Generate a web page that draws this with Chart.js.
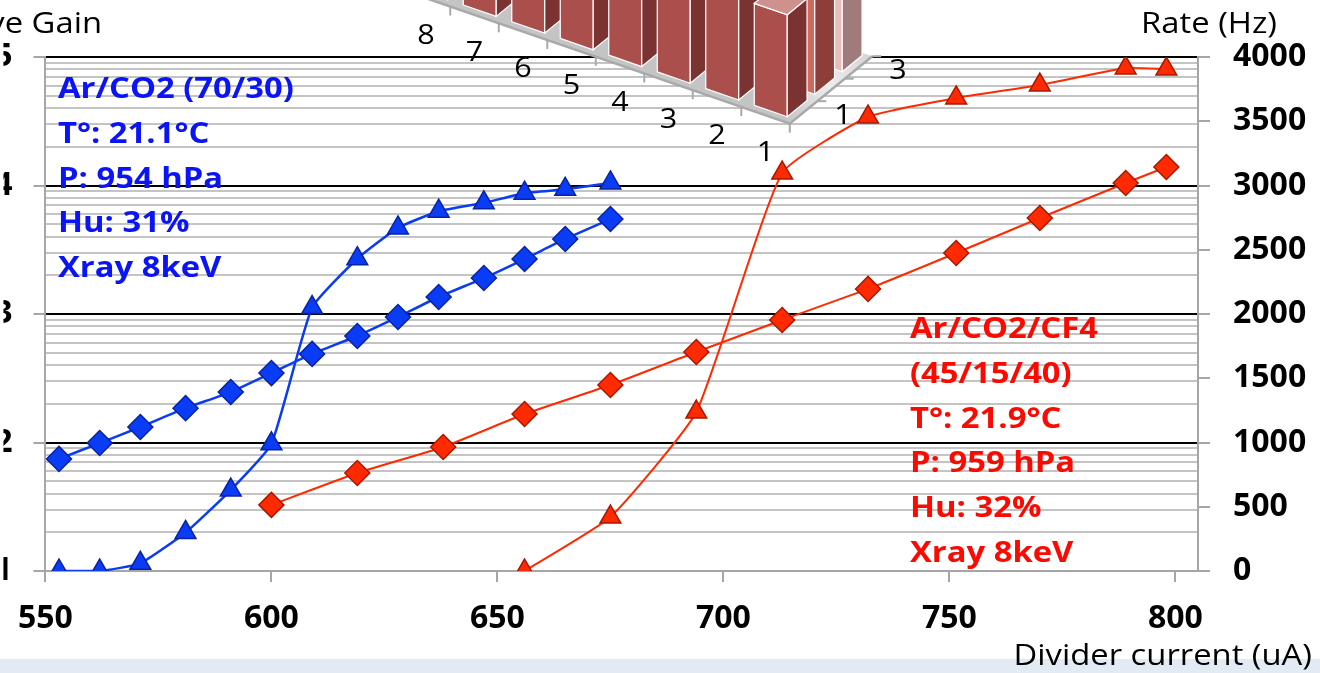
<!DOCTYPE html>
<html>
<head>
<meta charset="utf-8">
<script src="https://cdn.jsdelivr.net/npm/chart.js@4.4.1/dist/chart.umd.min.js"></script>
<style>
  html, body { margin: 0; padding: 0; background: #fff; }
  body { width: 1320px; height: 673px; position: relative; overflow: hidden; }
  #band { position: absolute; left: 0; top: 659px; width: 1320px; height: 14px; background: #e2eaf4; }
  #main { position: absolute; left: 0; top: 0; }
  #inset { position: absolute; left: 380px; top: 0; }
</style>
</head>
<body>
<div id="band"></div>
<canvas id="main" width="1320" height="673"></canvas>
<canvas id="inset" width="540" height="170"></canvas>
<script>
const FONT = "'Open Sans', sans-serif";
const WIDEN = 1.13; // text on the slide is drawn slightly stretched

// Ar/CO2 (70/30)
const arCurrent = [553, 562, 571, 581, 591, 600, 609, 619, 628, 637, 647, 656, 665, 675];
const arGain = [74.5, 99, 132, 185, 247, 347, 489, 674, 948, 1356, 1905, 2679, 3836, 5483];
const arRate = [0, 0, 60, 300, 630, 990, 2050, 2430, 2670, 2800, 2865, 2940, 2970, 3020];

// Ar/CO2/CF4 (45/15/40)
const cfCurrent = [600, 619, 638, 656, 675, 694, 713, 732, 751.5, 770, 789, 798];
const cfGain = [32.7, 57.9, 92.3, 166.6, 280, 506, 898, 1567, 2985, 5587, 10450, 13930];
const cfRateCurrent = [656, 675, 694, 713, 732, 751.5, 770, 789, 798];
const cfRate = [0, 420, 1237, 3097, 3533, 3681, 3782, 3914, 3906];

const xTicks = [550, 600, 650, 700, 750, 800];

const arNote = ['Ar/CO2 (70/30)', 'T°: 21.1°C', 'P: 954 hPa', 'Hu: 31%', 'Xray 8keV'];
const cfNote = ['Ar/CO2/CF4', '(45/15/40)', 'T°: 21.9°C', 'P: 959 hPa', 'Hu: 32%', 'Xray 8keV'];

// small 3D bar chart in the top corner
const insetCats = ['1', '2', '3', '4', '5', '6', '7', '8'];
const insetRows = ['1', '2', '3'];
const insetRow1 = [60, 61, 63, 64, 66, 67, 69, 70];
const insetRow2 = [66, 67, 69, 70, 72, 73, 75, 76];
const insetRow3 = [70, 71, 73, 74, 76, 77, 79, 80];

const blue = '#0a3cf5', blueEdge = '#0a239e', blueText = '#0b14f5';
const red = '#ff2a00', redEdge = '#a51a00', redText = '#fa0a00';

function pts(xs, ys) {
  return xs.map((x, i) => ({ x: x, y: ys[i] }));
}

function isDecade(v) {
  const l = Math.log10(v);
  return Math.abs(l - Math.round(l)) < 1e-9;
}

// fillText with a horizontal stretch; align is 'left', 'center' or 'right'
function wideText(ctx, t, x, y, align) {
  ctx.save();
  ctx.translate(x, y);
  ctx.scale(WIDEN, 1);
  ctx.textAlign = align || 'left';
  ctx.fillText(t, 0, 0);
  ctx.restore();
}

const notes = {
  id: 'notes',
  afterDraw(chart) {
    const ctx = chart.ctx;
    ctx.save();
    ctx.textBaseline = 'alphabetic';
    ctx.font = 'bold 29px ' + FONT;
    ctx.fillStyle = blueText;
    arNote.forEach((t, i) => wideText(ctx, t, 58, 98 + i * 44.8));
    ctx.fillStyle = redText;
    cfNote.forEach((t, i) => wideText(ctx, t, 910, 338 + i * 44.8));

    ctx.fillStyle = '#000';
    ctx.font = '29px ' + FONT;
    wideText(ctx, 'Effective Gain', 102, 33, 'right');
    wideText(ctx, 'Rate (Hz)', 1277, 33, 'right');
    wideText(ctx, 'Divider current (uA)', 1312, 665, 'right');
    ctx.restore();
  }
};

const tickFont = { family: FONT, size: 32, weight: 'bold' };

new Chart(document.getElementById('main'), {
  type: 'line',
  data: {
    datasets: [
      {
        label: 'Ar/CO2 gain', data: pts(arCurrent, arGain), yAxisID: 'gain',
        borderColor: blue, borderWidth: 2.5, pointStyle: 'rectRot', pointRadius: 12.5,
        pointBackgroundColor: blue, pointBorderColor: blueEdge, pointBorderWidth: 1.5, tension: 0.15
      },
      {
        label: 'Ar/CO2 rate', data: pts(arCurrent, arRate), yAxisID: 'rate',
        borderColor: blue, borderWidth: 2.5, pointStyle: 'triangle', pointRadius: 12,
        pointBackgroundColor: blue, pointBorderColor: blueEdge, pointBorderWidth: 1.5, tension: 0.15
      },
      {
        label: 'Ar/CO2/CF4 gain', data: pts(cfCurrent, cfGain), yAxisID: 'gain',
        borderColor: red, borderWidth: 2, pointStyle: 'rectRot', pointRadius: 12.5,
        pointBackgroundColor: red, pointBorderColor: redEdge, pointBorderWidth: 1.5, tension: 0.15
      },
      {
        label: 'Ar/CO2/CF4 rate', data: pts(cfRateCurrent, cfRate), yAxisID: 'rate',
        borderColor: red, borderWidth: 2, pointStyle: 'triangle', pointRadius: 12,
        pointBackgroundColor: red, pointBorderColor: redEdge, pointBorderWidth: 1.5, tension: 0.15
      }
    ]
  },
  options: {
    responsive: false,
    animation: false,
    devicePixelRatio: 1,
    events: [],
    layout: { padding: { top: 57, left: 0, right: 0, bottom: 0 } },
    plugins: { legend: { display: false }, tooltip: { enabled: false } },
    scales: {
      x: {
        type: 'linear', min: 550, max: 805,
        afterBuildTicks: s => { s.ticks = xTicks.map(v => ({ value: v })); },
        afterFit: s => { s.height = 102; },
        border: { color: '#a6a6a6', width: 2 },
        grid: { drawOnChartArea: false, color: '#a6a6a6', lineWidth: 2, tickLength: 11 },
        ticks: { color: '#000', font: tickFont, padding: 18, maxRotation: 0, autoSkip: false, callback: v => String(v) }
      },
      gain: {
        type: 'logarithmic', position: 'left', min: 10, max: 100000,
        afterBuildTicks: s => {
          const t = [];
          for (let e = 1; e <= 5; e++) {
            for (let m = 1; m <= 9; m++) {
              const v = m * Math.pow(10, e);
              if (v <= 100000) t.push({ value: v });
            }
          }
          s.ticks = t;
        },
        afterFit: s => { s.width = 42; },
        border: { color: '#a6a6a6', width: 2 },
        grid: {
          color: c => isDecade(c.tick.value) ? '#000' : '#c4c4c4',
          tickColor: c => isDecade(c.tick.value) ? '#a6a6a6' : 'rgba(0,0,0,0)',
          lineWidth: 2, tickLength: 12
        },
        ticks: {
          autoSkip: false, color: '#000', padding: 21, font: tickFont,
          callback: v => isDecade(v) ? '1.E+0' + Math.round(Math.log10(v)) : ''
        }
      },
      rate: {
        type: 'linear', position: 'right', min: 0, max: 4000,
        afterFit: s => { s.width = 122; },
        border: { color: '#a6a6a6', width: 2 },
        grid: { drawOnChartArea: false, color: '#a6a6a6', lineWidth: 2, tickLength: 12 },
        ticks: { stepSize: 500, color: '#000', padding: 23, font: tickFont, callback: v => String(v) }
      }
    }
  },
  plugins: [notes]
});

// ---- 3D inset ----
const SLOPE = 0.345;             // slope of the category axis on screen
const ROWX = 27.5, ROWY = -22.5; // one depth row on screen
const FX = 408, FY = 117;        // a point of the front row base line
const BAR_DEPTH = 0.72;          // in rows
const rowColors = [
  { front: '#ab4f4d', side: '#7a3331', top: '#cf918e' },
  { front: '#d0685e', side: '#8e3e38', top: '#e4a39d' },
  { front: '#e8bdb9', side: '#9f7b7b', top: '#f3dcda' }
];

function P(x, r) {
  return [x + r * ROWX, FY + SLOPE * (x - FX) + r * ROWY];
}

function poly(ctx, points, fill, stroke) {
  ctx.beginPath();
  ctx.moveTo(points[0][0], points[0][1]);
  for (let i = 1; i < points.length; i++) ctx.lineTo(points[i][0], points[i][1]);
  ctx.closePath();
  if (fill) { ctx.fillStyle = fill; ctx.fill(); }
  if (stroke) { ctx.strokeStyle = stroke; ctx.lineWidth = 1.2; ctx.stroke(); }
}

const box3d = {
  id: 'box3d',
  afterDatasetsDraw(chart) {
    const ctx = chart.ctx;
    const area = chart.chartArea;
    const L = area.left, R = area.right;
    const f0 = -0.19, f1 = 2.81;
    ctx.save();

    // back walls are plain white
    const br = P(R, f1);
    poly(ctx, [P(L - 200, f0), P(R, f0), br, [br[0], -60], [P(L - 200, f0)[0], -60]], '#fff');

    // floor
    const g = ctx.createLinearGradient(P(R, f0)[0], P(R, f0)[1], br[0], br[1]);
    g.addColorStop(0, '#c4c4c4');
    g.addColorStop(0.5, '#ececec');
    g.addColorStop(1, '#d6d6d6');
    poly(ctx, [P(L - 200, f0), P(R, f0), P(R, f1), P(L - 200, f1)], g);
    ctx.strokeStyle = '#a9a9a9';
    ctx.lineWidth = 2.5;
    ctx.beginPath();
    ctx.moveTo(...P(L - 200, f0));
    ctx.lineTo(...P(R, f0));
    ctx.lineTo(...P(R, f1));
    ctx.stroke();

    // tick marks on the floor edges
    ctx.lineWidth = 2;
    const xs = chart.scales.x;
    const step = (R - L) / insetCats.length;
    for (let k = 0; k <= insetCats.length; k++) {
      const p = P(L + k * step, f0);
      ctx.beginPath();
      ctx.moveTo(p[0], p[1]);
      ctx.lineTo(p[0], p[1] + 9);
      ctx.stroke();
    }
    for (let k = 1; k <= 3; k++) {
      const p = P(R, f0 + k);
      ctx.beginPath();
      ctx.moveTo(p[0], p[1]);
      ctx.lineTo(p[0] + 9, p[1]);
      ctx.stroke();
    }

    // bars, back row first, far categories first
    for (let d = chart.data.datasets.length - 1; d >= 0; d--) {
      const meta = chart.getDatasetMeta(d);
      const c = rowColors[d];
      for (let i = meta.data.length - 1; i >= 0; i--) {
        const el = meta.data[i];
        const h = el.base - el.y;
        const xl = el.x - el.width / 2, xr = el.x + el.width / 2;
        const a = P(xl, d), b = P(xr, d), bb = P(xr, d + BAR_DEPTH), ab = P(xl, d + BAR_DEPTH);
        const up = p => [p[0], p[1] - h];
        poly(ctx, [a, b, up(b), up(a)], c.front, '#fff');
        poly(ctx, [b, bb, up(bb), up(b)], c.side, '#fff');
        poly(ctx, [up(a), up(b), up(bb), up(ab)], c.top, '#fff');
      }
    }

    // category and row labels
    ctx.fillStyle = '#000';
    ctx.font = '27px ' + FONT;
    ctx.textBaseline = 'middle';
    insetCats.forEach((t, i) => {
      const p = P(xs.getPixelForValue(i), f0);
      wideText(ctx, t, p[0], p[1] + 38, 'center');
    });
    insetRows.forEach((t, d) => {
      if (d % 2) return;
      const p = P(R, d + 0.36);
      wideText(ctx, t, p[0] + 38, p[1] + 5, 'center');
    });
    ctx.restore();
  }
};

new Chart(document.getElementById('inset'), {
  type: 'bar',
  data: {
    labels: insetCats,
    datasets: [
      { label: insetRows[0], data: insetRow1 },
      { label: insetRows[1], data: insetRow2 },
      { label: insetRows[2], data: insetRow3 }
    ].map(ds => Object.assign(ds, {
      grouped: false, backgroundColor: 'rgba(0,0,0,0)', borderWidth: 0,
      barPercentage: 0.68, categoryPercentage: 1
    }))
  },
  options: {
    responsive: false,
    animation: false,
    devicePixelRatio: 1,
    events: [],
    layout: { padding: { left: 27, right: 125, top: 0, bottom: 0 } },
    plugins: { legend: { display: false }, tooltip: { enabled: false } },
    scales: {
      x: { display: false, reverse: true, offset: true },
      y: { display: false, min: 0, max: 100 }
    }
  },
  plugins: [box3d]
});
</script>
</body>
</html>
